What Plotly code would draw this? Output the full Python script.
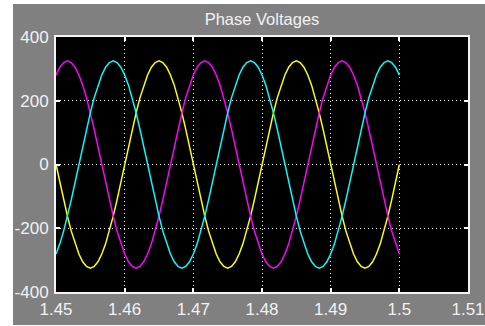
import numpy as np
import plotly.graph_objects as go

# Scope window: 1.45 s .. 1.50 s, one sample every 10 electrical degrees (50 Hz)
t = np.linspace(1.45, 1.5, 91)

# Phase voltages in volts
v_yellow = [
    0, -56, -111, -162, -209, -249, -281, -305, -320, -325, -320, -305, -281, -249, -209, -162, -111, -56,
    0, 56, 111, 162, 209, 249, 281, 305, 320, 325, 320, 305, 281, 249, 209, 162, 111, 56,
    0, -56, -111, -162, -209, -249, -281, -305, -320, -325, -320, -305, -281, -249, -209, -162, -111, -56,
    0, 56, 111, 162, 209, 249, 281, 305, 320, 325, 320, 305, 281, 249, 209, 162, 111, 56,
    0, -56, -111, -162, -209, -249, -281, -305, -320, -325, -320, -305, -281, -249, -209, -162, -111, -56,
    0,
]
v_magenta = [
    281, 305, 320, 325, 320, 305, 281, 249, 209, 162, 111, 56, 0, -56, -111, -162, -209, -249,
    -281, -305, -320, -325, -320, -305, -281, -249, -209, -162, -111, -56, 0, 56, 111, 162, 209, 249,
    281, 305, 320, 325, 320, 305, 281, 249, 209, 162, 111, 56, 0, -56, -111, -162, -209, -249,
    -281, -305, -320, -325, -320, -305, -281, -249, -209, -162, -111, -56, 0, 56, 111, 162, 209, 249,
    281, 305, 320, 325, 320, 305, 281, 249, 209, 162, 111, 56, 0, -56, -111, -162, -209, -249,
    -281,
]
v_cyan = [
    -281, -249, -209, -162, -111, -56, 0, 56, 111, 162, 209, 249, 281, 305, 320, 325, 320, 305,
    281, 249, 209, 162, 111, 56, 0, -56, -111, -162, -209, -249, -281, -305, -320, -325, -320, -305,
    -281, -249, -209, -162, -111, -56, 0, 56, 111, 162, 209, 249, 281, 305, 320, 325, 320, 305,
    281, 249, 209, 162, 111, 56, 0, -56, -111, -162, -209, -249, -281, -305, -320, -325, -320, -305,
    -281, -249, -209, -162, -111, -56, 0, 56, 111, 162, 209, 249, 281, 305, 320, 325, 320, 305,
    281,
]

x_ticks = [1.45, 1.46, 1.47, 1.48, 1.49, 1.50, 1.51]
x_labels = ["1.45", "1.46", "1.47", "1.48", "1.49", "1.5", "1.51"]
y_ticks = [-400, -200, 0, 200, 400]
y_labels = ["-400", "-200", "0", "200", "400"]

W, H = 485, 326
L, R, T, B = 56, 17, 37, 34
pw, ph = W - L - R, H - T - B

fig = go.Figure()
for vals, col in [(v_yellow, "#ffff00"), (v_magenta, "#ff00ff"), (v_cyan, "#00ffff")]:
    fig.add_trace(go.Scatter(x=t, y=vals, mode="lines",
                             line=dict(color=col, width=1.5), showlegend=False))

txt = "#f2f2f2"
axis_common = dict(
    showline=True, linecolor="#f4f4f4", linewidth=2, mirror="ticks",
    ticks="inside", ticklen=4, tickwidth=1.5, tickcolor="#ffffff",
    showgrid=True, gridcolor="#ffffff", gridwidth=1, griddash="1px,3px",
    zeroline=False, automargin=False,
    tickfont=dict(family="Liberation Sans, Arial", size=17, color=txt),
)

fig.update_xaxes(range=[1.45, 1.51], tickmode="array", tickvals=x_ticks, ticktext=x_labels,
                 ticklabelstandoff=1, **axis_common)
fig.update_yaxes(range=[-400, 400], tickmode="array", tickvals=y_ticks, ticktext=y_labels,
                 ticklabelstandoff=2, **axis_common)

# White window margin along the left, top and bottom of the grey scope panel
white = dict(type="rect", xref="paper", yref="paper", layer="above",
             fillcolor="#ffffff", line=dict(width=0))
fig.add_shape(x0=-L / pw, x1=(13 - L) / pw, y0=-B / ph - 0.01, y1=(H - B) / ph + 0.01, **white)
fig.add_shape(x0=-L / pw, x1=(W - L) / pw + 0.01, y0=((H - B) - 4) / ph, y1=(H - B) / ph + 0.01, **white)
fig.add_shape(x0=-L / pw, x1=(W - L) / pw + 0.01, y0=-B / ph - 0.01, y1=-(325 - (H - B)) / ph, **white)

fig.update_layout(
    width=W, height=H,
    margin=dict(l=L, r=R, t=T, b=B, pad=0),
    paper_bgcolor="#808080", plot_bgcolor="#000000",
    title=dict(text="Phase Voltages", x=(L + pw / 2) / W, xanchor="center",
               y=1 - 19 / H, yanchor="middle", automargin=False,
               font=dict(family="Liberation Sans, Arial", size=16.5, color=txt)),
)

fig.write_html("out.html")
